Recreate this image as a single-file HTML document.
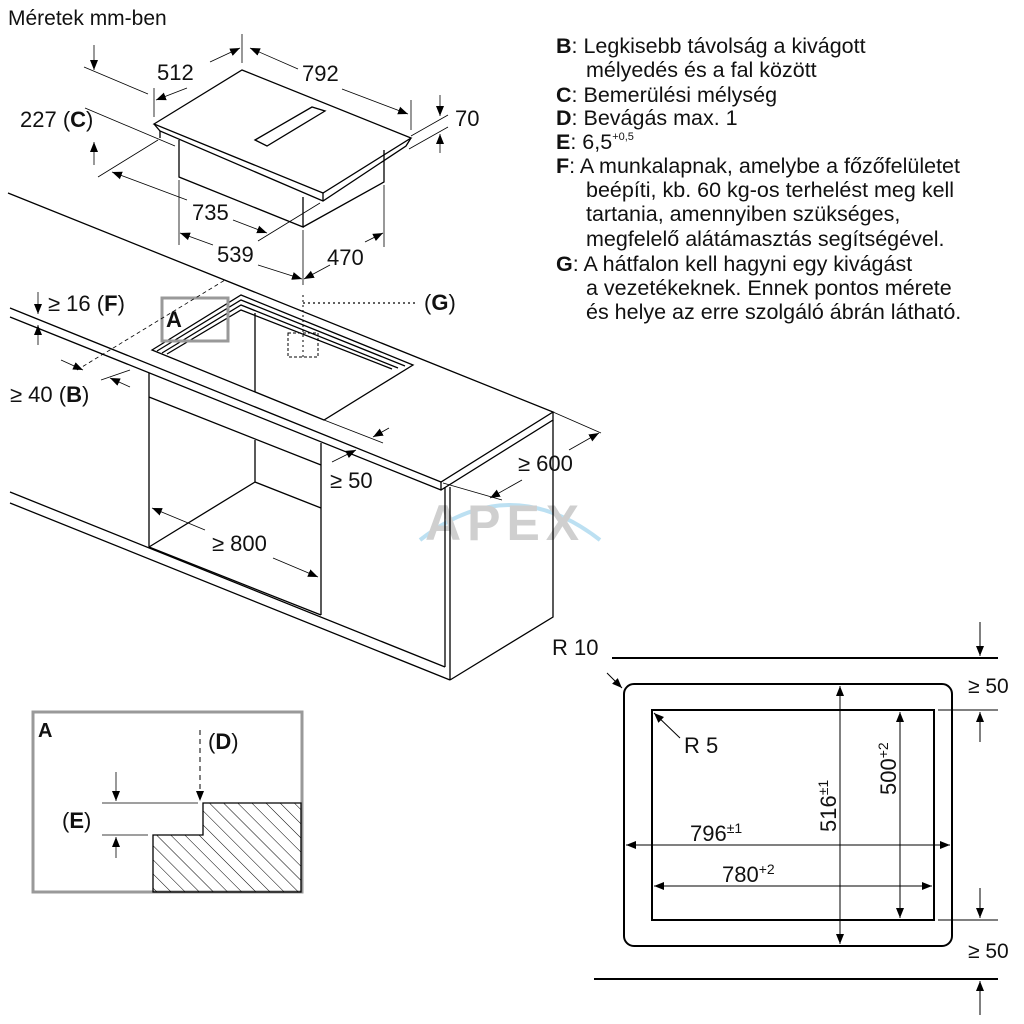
<!DOCTYPE html>
<html><head><meta charset="utf-8"><style>
html,body{margin:0;padding:0;background:#fff}
svg{display:block}
text{font-family:"Liberation Sans",sans-serif;fill:#111}
</style></head><body>
<svg width="1024" height="1024" viewBox="0 0 1024 1024" xmlns="http://www.w3.org/2000/svg">
<defs>
<marker id="a" viewBox="0 0 10 10" refX="10" refY="5" markerWidth="10" markerHeight="10" orient="auto-start-reverse" markerUnits="userSpaceOnUse"><path d="M0,1 L10,5 L0,9 z" fill="#000"/></marker>
<pattern id="h" width="10" height="10" patternUnits="userSpaceOnUse" patternTransform="rotate(-45)"><line x1="0" y1="0" x2="0" y2="10" stroke="#000" stroke-width="1"/></pattern>
</defs>
<g opacity="0.4">
<path d="M420,540 Q510,470 600,540" stroke="#5ab4e0" stroke-width="4" fill="none"/>
<text x="425" y="540" font-size="50" font-weight="bold" style="fill:#888" letter-spacing="6">APEX</text>
</g>
<g stroke="#000" stroke-width="1.3" fill="none">
<path d="M154,124 L242,70 L411,138 L323,193 Z" fill="#fff"/>
<path d="M154,124 L160,131 L323,201 L406,146 L411,138 M323,193 L323,201"/>
<path d="M160,131 L160,138 M179,140 L179,177 L303,227 L303,197 M303,227 L384,182 L384,150"/>
<path d="M255,140 L312,107 L325,111 L267,146 Z"/>
<g stroke-width="0.8">
<path d="M242,34 L242,63 M154,88 L154,117 M411,100 L411,130"/>
<path d="M210,62 L240,48" marker-end="url(#a)"/><path d="M187,88 L156,100" marker-end="url(#a)"/>
<path d="M250,48 L298,69" marker-start="url(#a)"/><path d="M342,89 L408,114" marker-end="url(#a)"/>
<path d="M84,67 L148,94 M85,108 L175,146"/>
<path d="M94,45 L94,70" marker-end="url(#a)"/><path d="M94,165 L94,142" marker-end="url(#a)"/>
<path d="M411,136 L448,115 M409,149 L448,127"/>
<path d="M440,95 L440,116" marker-end="url(#a)"/><path d="M440,153 L440,134" marker-end="url(#a)"/>
<path d="M98,177 L158,140 M258,241 L320,203"/>
<path d="M112,172 L187,200" marker-start="url(#a)"/><path d="M233,220 L267,233" marker-end="url(#a)"/>
<path d="M179,180 L179,245 M303,230 L303,285 M384,185 L384,247"/>
<path d="M180,233 L213,245" marker-start="url(#a)"/><path d="M258,265 L302,279" marker-end="url(#a)"/>
<path d="M304,279 L330,265" marker-start="url(#a)"/><path d="M365,242 L383,233" marker-end="url(#a)"/>
</g>
<path d="M8,193 L553,412 L441,482 L10,308"/>
<path d="M10,317 L441,490 L553,420 L553,412 M441,482 L441,490"/>
<path d="M445,487 L445,667 M450,487 L450,680 M553,420 L553,617 L450,680"/>
<path d="M10,492 L445,667 M10,503 L450,680"/>
<path d="M149,373 L149,547 M321,443 L321,615 M149,397 L321,465 M149,547 L321,615"/>
<path d="M255,313 L255,392 M255,440 L255,482 L321,508 M255,482 L149,547"/>
<path d="M152,350 L241,295 L413,365 L324,420 Z" fill="#fff"/>
<path d="M157,351 L241,300 L405,366 M162,353 L241,305 L398,368 M167,354 L241,310 L392,369"/>
<path d="M255,313 L255,392"/>
<rect x="288" y="333" width="30" height="24" stroke-dasharray="3,2" stroke-width="1"/>
<path d="M303,295 L303,360" stroke-dasharray="2,3" stroke-width="1"/>
<path d="M303,303 L415,303" stroke-dasharray="2,3" stroke-width="1.2"/>
<rect x="162" y="298" width="66" height="43" stroke="#999" stroke-width="3"/>
<g stroke-width="0.8">
<path d="M38,292 L38,314" marker-end="url(#a)"/><path d="M38,345 L38,325" marker-end="url(#a)"/>
<path d="M77,370 L225,280" stroke-dasharray="4,3"/>
<path d="M61,360 L83,370" marker-end="url(#a)"/>
<path d="M101,380 L130,370"/>
<path d="M130,387 L110,378" marker-end="url(#a)"/>
<path d="M324,420 L383,443"/>
<path d="M389,428 L373,437" marker-end="url(#a)"/>
<path d="M332,462 L356,450" marker-end="url(#a)"/>
<path d="M553,412 L601,433 M443,483 L502,500"/>
<path d="M569,450 L599,433" marker-end="url(#a)"/><path d="M522,480 L490,498" marker-end="url(#a)"/>
<path d="M205,530 L152,508" marker-end="url(#a)"/>
<path d="M273,558 L318,577" marker-end="url(#a)"/>
</g>
<rect x="33" y="712" width="269" height="180" stroke="#999" stroke-width="3"/>
<path d="M153,892 L153,835 L203,835 L203,803 L301,803 L301,892 Z" fill="url(#h)" stroke-width="1.3"/>
<path d="M102,803 L198,803 M102,835 L148,835" stroke-width="0.8"/>
<path d="M200,730 L200,801" stroke-dasharray="5,4" stroke-width="1" marker-end="url(#a)"/>
<path d="M116,772 L116,801" stroke-width="0.8" marker-end="url(#a)"/>
<path d="M116,858 L116,837" stroke-width="0.8" marker-end="url(#a)"/>
<path d="M612,658 L998,658 M594,979 L998,979" stroke-width="2"/>
<rect x="624" y="684" width="328" height="262" rx="10" stroke-width="2"/>
<rect x="652" y="710" width="282" height="210" stroke-width="2"/>
<g stroke-width="1">
<path d="M938,710 L998,710 M938,920 L998,920"/>
<path d="M980,622 L980,656" marker-end="url(#a)"/>
<path d="M980,742 L980,712" marker-end="url(#a)"/>
<path d="M980,888 L980,918" marker-end="url(#a)"/>
<path d="M980,1015 L980,981" marker-end="url(#a)"/>
<path d="M840,686 L840,944" marker-start="url(#a)" marker-end="url(#a)"/>
<path d="M900,712 L900,918" marker-start="url(#a)" marker-end="url(#a)"/>
<path d="M626,845 L950,845" marker-start="url(#a)" marker-end="url(#a)"/>
<path d="M654,886 L932,886" marker-start="url(#a)" marker-end="url(#a)"/>
<path d="M607,673 L622,688" marker-end="url(#a)"/>
<path d="M680,738 L654,713" marker-end="url(#a)"/>
</g>
</g>
<g font-size="22">
<text x="8" y="25" font-size="21">Méretek mm-ben</text>
<text x="157" y="80">512</text>
<text x="302" y="81">792</text>
<text x="20" y="127">227 (<tspan font-weight="bold">C</tspan>)</text>
<text x="455" y="126">70</text>
<text x="192" y="220">735</text>
<text x="217" y="262">539</text>
<text x="327" y="265">470</text>
<text x="48" y="311">≥ 16 (<tspan font-weight="bold">F</tspan>)</text>
<text x="166" y="327" font-weight="bold">A</text>
<text x="424" y="310">(<tspan font-weight="bold">G</tspan>)</text>
<text x="10" y="402">≥ 40 (<tspan font-weight="bold">B</tspan>)</text>
<text x="330" y="488">≥ 50</text>
<text x="518" y="471">≥ 600</text>
<text x="212" y="551">≥ 800</text>
<text x="38" y="737" font-weight="bold" font-size="20">A</text>
<text x="208" y="749">(<tspan font-weight="bold">D</tspan>)</text>
<text x="62" y="828">(<tspan font-weight="bold">E</tspan>)</text>
<text x="552" y="655">R 10</text>
<text x="968" y="693" font-size="21">≥ 50</text>
<text x="968" y="958" font-size="21">≥ 50</text>
<text x="684" y="753">R 5</text>
<text x="690" y="841">796<tspan font-size="14" dy="-8">±1</tspan></text>
<text x="722" y="882">780<tspan font-size="14" dy="-8">+2</tspan></text>
<text transform="translate(836,832) rotate(-90)">516<tspan font-size="14" dy="-8">±1</tspan></text>
<text transform="translate(896,795) rotate(-90)">500<tspan font-size="14" dy="-8">+2</tspan></text>
</g>
<g font-size="21.5">
<text x="556" y="53"><tspan font-weight="bold">B</tspan>: Legkisebb távolság a kivágott</text>
<text x="586" y="77">mélyedés és a fal között</text>
<text x="556" y="102"><tspan font-weight="bold">C</tspan>: Bemerülési mélység</text>
<text x="556" y="125"><tspan font-weight="bold">D</tspan>: Bevágás max. 1</text>
<text x="556" y="149"><tspan font-weight="bold">E</tspan>: 6,5<tspan font-size="11" dy="-9">+0,5</tspan></text>
<text x="556" y="173"><tspan font-weight="bold">F</tspan>: A munkalapnak, amelybe a főzőfelületet</text>
<text x="586" y="197">beépíti, kb. 60 kg-os terhelést meg kell</text>
<text x="586" y="221">tartania, amennyiben szükséges,</text>
<text x="586" y="246">megfelelő alátámasztás segítségével.</text>
<text x="556" y="271"><tspan font-weight="bold">G</tspan>: A hátfalon kell hagyni egy kivágást</text>
<text x="586" y="295">a vezetékeknek. Ennek pontos mérete</text>
<text x="586" y="319">és helye az erre szolgáló ábrán látható.</text>
</g>
</svg>
</body></html>
